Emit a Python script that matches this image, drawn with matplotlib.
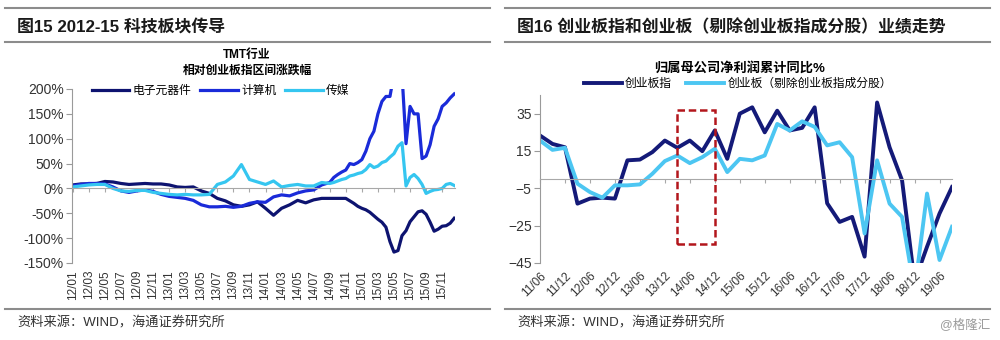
import numpy as np
import matplotlib
matplotlib.use('Agg')
import matplotlib.pyplot as plt
from matplotlib.lines import Line2D
from matplotlib.patches import Rectangle
from matplotlib.ticker import FuncFormatter

plt.rcParams['font.family'] = ['Liberation Sans', 'Noto Sans CJK SC']

# --- left chart: TMT relative to ChiNext, months since 2012-01 ---
months = list(range(0, 32)) + list(np.arange(32, 48, 0.5))
electronics = [7, 9, 9, 10, 14, 13, 10, 8, 9, 10, 9, 9, 7, 3, 2, 3,
               -5, -10, -20, -25, -33, -36, -33, -27, -40, -54, -40, -33, -24, -29, -23, -20,
               -20, -20, -20, -20, -20, -25, -30, -36, -40, -43, -48, -55, -62, -68, -78, -107,
               -128, -125, -95, -85, -67, -57, -47, -45, -52, -68, -86, -82, -76, -75, -70, -60]
computer = [5, 8, 10, 10, 9, 3, -5, -8, -5, -3, -6, -12, -16, -18, -20, -24,
            -33, -37, -37, -36, -38, -36, -30, -27, -28, -17, -13, -15, -9, -5, -3, 7,
            12, 22, 28, 33, 37, 50, 48, 52, 58, 75, 100, 115, 150, 175, 185, 185,
            230, 250, 230, 90, 165, 150, 150, 60, 65, 88, 125, 140, 165, 172, 182, 190]
media = [3, 5, 7, 8, 8, 0, -5, -6, -4, -4, -8, -10, -12, -13, -12, -13,
         -13, -12, 8, 13, 25, 48, 18, 13, 8, 15, 3, 6, 8, 5, 5, 12,
         10, 12, 15, 18, 20, 25, 27, 30, 32, 38, 48, 42, 45, 52, 55, 63,
         70, 85, 92, 5, 22, 28, 20, 8, -10, -6, -3, -2, 0, 8, 10, 6]
left_ticklabels = ['12/01', '12/03', '12/05', '12/07', '12/09', '12/11',
                   '13/01', '13/03', '13/05', '13/07', '13/09', '13/11',
                   '14/01', '14/03', '14/05', '14/07', '14/09', '14/11',
                   '15/01', '15/03', '15/05', '15/07', '15/09', '15/11']

# --- right chart: cumulative net profit yoy, quarterly from 2011/06 ---
quarters = np.arange(34)
chinext_index = [23.3, 18.8, 17, -13.2, -10.5, -10, -10.5, 10, 10.4, 14.4, 20.6, 16.7,
                 20.6, 14.9, 26, 10.8, 35, 38.4, 25, 36.6, 26, 27.4, 38.4, -13,
                 -23, -20.3, -41.6, 41, 17, -0.7, -55, -36.3, -18.5, -4.3]
chinext_ex = [20.6, 15.6, 16.7, -2.5, -7, -10, -3.4, -3.4, -2.9, 2.8, 9.6, 12.6,
              8.5, 11.7, 16.2, 3.7, 10.8, 10, 12.6, 29.5, 26, 30.9, 27.9, 18,
              19.7, 11.7, -29.2, 10, -13.2, -20.3, -60, -7.8, -43.4, -25.6]
right_ticklabels = ['11/06', '11/12', '12/06', '12/12', '13/06', '13/12', '14/06',
                    '14/12', '15/06', '15/12', '16/06', '16/12', '17/06', '17/12',
                    '18/06', '18/12', '19/06']
box_quarters = (11, 14)
box_values = (-35, 37)

W, H = 1000, 340
fig = plt.figure(figsize=(10, 3.4), dpi=100)


def fx(x):
    return x / W


def fy(y):
    return 1 - y / H


def rule(x0, x1, y, lw=1.3):
    fig.add_artist(Line2D([fx(x0), fx(x1)], [fy(y), fy(y)], color='#8c8c8c', lw=lw))


# header / footer rules and texts
for x0, x1 in [(5, 490), (505, 990)]:
    rule(x0, x1, 8, 1.5)
    rule(x0, x1, 42, 1.5)
    rule(x0, x1, 309, 1.5)

fig.text(fx(17), fy(27), '图15 2012-15 科技板块传导', fontsize=12.2, fontweight='bold',
         va='center', ha='left', color='#1a1a1a')
fig.text(fx(517), fy(27), '图16 创业板指和创业板（剔除创业板指成分股）业绩走势', fontsize=12.2,
         fontweight='bold', va='center', ha='left', color='#1a1a1a')
for x in (17, 517):
    fig.text(fx(x), fy(323), '资料来源：WIND，海通证券研究所', fontsize=9.5, va='center',
             ha='left', color='#333333')
fig.text(fx(990), fy(325), '@格隆汇', fontsize=9, va='center', ha='right', color='#9a9a9a')

fig.text(fx(247), fy(55), 'TMT行业', fontsize=8.5, fontweight='bold', ha='center', va='center')
fig.text(fx(247), fy(71), '相对创业板指区间涨跌幅', fontsize=8.5, fontweight='bold',
         ha='center', va='center')
fig.text(fx(740), fy(68), '归属母公司净利润累计同比%', fontsize=9.5, fontweight='bold',
         ha='center', va='center')


def style_axes(ax, xt, labels, rot):
    for s in ('top', 'right'):
        ax.spines[s].set_visible(False)
    ax.spines['left'].set_color('#9a9a9a')
    ax.spines['bottom'].set_position(('data', 0))
    ax.spines['bottom'].set_color('#a8a8a8')
    ax.set_xticks(xt)
    ax.tick_params(axis='x', direction='out', length=3, color='#a8a8a8', labelbottom=False)
    ax.tick_params(axis='y', direction='out', length=4, color='#9a9a9a', labelsize=10,
                   labelcolor='#333333', pad=2)
    sec = ax.secondary_xaxis(0.0)
    for s in sec.spines.values():
        s.set_visible(False)
    if rot == 90:
        sec.set_xticks(xt, labels=labels, rotation=90, fontsize=8.5, color='#333333')
    else:
        sec.set_xticks(xt, labels=labels, rotation=45, fontsize=8.5, color='#333333',
                       ha='right', rotation_mode='anchor')
    sec.tick_params(length=0, pad=5)


# left chart
ax1 = fig.add_axes([fx(72), fy(263), fx(455 - 72), (263 - 89) / H])
ax1.plot(months, electronics, color='#0d1370', lw=2.3, label='电子元器件')
ax1.plot(months, computer, color='#1a2bd9', lw=2.3, label='计算机')
ax1.plot(months, media, color='#35c6f0', lw=2.3, label='传媒')
ax1.set_xlim(-0.1, 47.6)
ax1.set_ylim(-150, 200)
ax1.set_yticks(range(-150, 201, 50))
ax1.yaxis.set_major_formatter(FuncFormatter(lambda v, p: f'{v:.0f}%'))
style_axes(ax1, np.arange(0, 47, 2), left_ticklabels, 90)
ax1.legend(loc='upper left', bbox_to_anchor=(0.045, 1.035), ncol=3, frameon=False,
           handlelength=3.2, handletextpad=0.3, columnspacing=0.7, fontsize=8.5,
           borderpad=0.2, borderaxespad=0)

# right chart
ax2 = fig.add_axes([fx(540), fy(263), fx(952 - 540), (263 - 95) / H])
ax2.plot(quarters, chinext_index, color='#141a78', lw=2.8, label='创业板指',
         solid_joinstyle='round')
ax2.plot(quarters, chinext_ex, color='#4cc6f2', lw=2.8, label='创业板（剔除创业板指成分股）',
         solid_joinstyle='round')
ax2.add_patch(Rectangle((box_quarters[0], box_values[0]), box_quarters[1] - box_quarters[0],
                        box_values[1] - box_values[0], fill=False, ls=(0, (3, 1.5)),
                        lw=1.8, edgecolor='#b3161c', zorder=5))
ax2.set_xlim(0, 33)
ax2.set_ylim(-45, 45)
ax2.set_yticks([-45, -25, -5, 15, 35])
style_axes(ax2, np.arange(0, 33, 2), right_ticklabels, 45)
ax2.legend(loc='center', bbox_to_anchor=(fx(738), fy(84)), bbox_transform=fig.transFigure,
           ncol=2, frameon=False, handlelength=3.2, handletextpad=0.3, columnspacing=1.2,
           fontsize=8.5, borderpad=0)

fig.savefig('out.png', dpi=100)
